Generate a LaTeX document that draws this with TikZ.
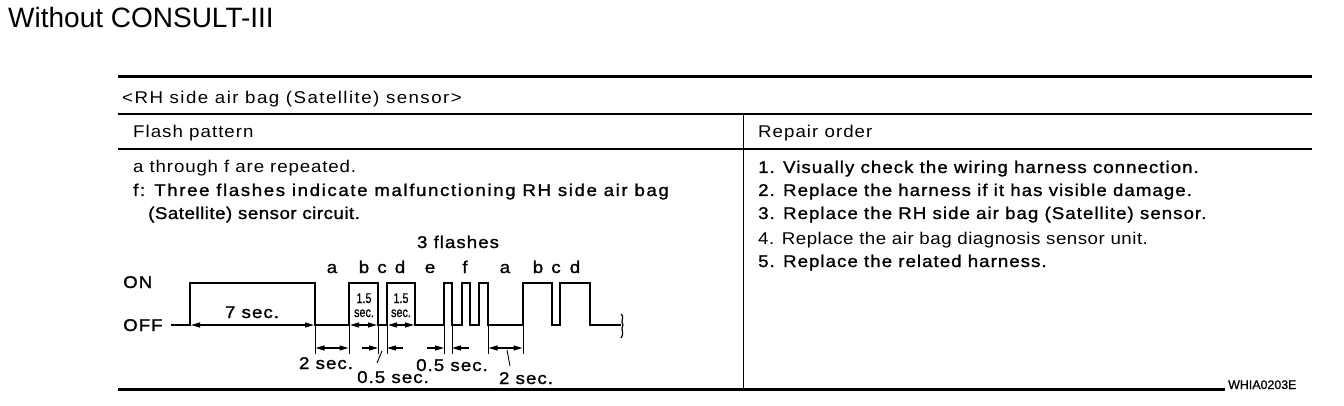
\documentclass[tikz,border=0pt]{standalone}
\usepackage{fontspec}
\setmainfont{Liberation Sans}[LetterSpace=6,FakeStretch=1.1]
\newfontfamily\plainsans{Liberation Sans}
\newfontfamily\codefont{Liberation Sans}[FakeBold=0.8]
\newfontfamily\heavysans{Liberation Sans}[LetterSpace=6,FakeStretch=1.1,FakeBold=1.2]
\usetikzlibrary{arrows.meta}
\newcommand{\lsp}[1]{\addfontfeatures{LetterSpace=#1}}
\begin{document}
\begin{tikzpicture}[x=1pt,y=-1pt,
  txt/.style={anchor=base west,inner sep=0pt,font=\fontsize{17}{20}\selectfont},
  htxt/.style={anchor=base west,inner sep=0pt,font=\heavysans\fontsize{17}{20}\selectfont},
  ctxt/.style={anchor=base,inner sep=0pt,font=\heavysans\fontsize{17}{20}\selectfont},
  small/.style={anchor=base,inner sep=0pt,font=\heavysans\lsp{0}\fontsize{14}{14}\selectfont},
  rule/.style={line width=#1},
  wave/.style={line width=2.2pt,line join=miter,line cap=rect},
  tick/.style={line width=0.9pt},
  both/.style={line width=1.2pt,{Triangle[length=9pt,width=5pt]}-{Triangle[length=9pt,width=5pt]}},
  one/.style={line width=1.2pt,-{Triangle[length=9pt,width=5pt]}},
  leader/.style={line width=0.9pt}]
\useasboundingbox (0,0) rectangle (1344,406);
% title
\node[anchor=base west,inner sep=0pt,font=\plainsans\fontsize{28}{30}\selectfont] (title) at (8,28) {Without CONSULT-III};
% table rules
\coordinate (tl1) at (118,77);  \coordinate (tr1) at (1312,77);
\coordinate (tl2) at (118,114); \coordinate (tr2) at (1312,114);
\coordinate (tl3) at (118,149); \coordinate (tr3) at (1312,149);
\coordinate (tl4) at (118,389); \coordinate (tr4) at (1225,389);
\coordinate (vt) at (743,114);  \coordinate (vb) at (743,389);
\draw[rule=3pt] (tl1) -- (tr1);
\draw[rule=2pt] (tl2) -- (tr2);
\draw[rule=2pt] (tl3) -- (tr3);
\draw[rule=3pt] (tl4) -- (tr4);
\draw[rule=1pt] (vt) -- (vb);
% headers
\node[txt,font=\fontsize{17}{20}\selectfont\lsp{8.5}] (hdr) at (122,104) {<RH side air bag (Satellite) sensor>};
\node[txt] (fp) at (133,138) {Flash pattern};
\node[txt] (ro) at (758,138) {Repair order};
% left text
\node[txt,font=\fontsize{17}{20}\selectfont\lsp{5}] (l1) at (133,173) {a through f are repeated.};
\node[htxt,font=\heavysans\fontsize{17}{20}\selectfont\lsp{9.4}] (l2) at (133,196) {f: Three flashes indicate malfunctioning RH side air bag};
\node[htxt,font=\heavysans\fontsize{17}{20}\selectfont\lsp{3}] (l3) at (148,219) {(Satellite) sensor circuit.};
% right text
\node[htxt] (r1) at (758,173) {1. Visually check the wiring harness connection.};
\node[htxt] (r2) at (758,196) {2. Replace the harness if it has visible damage.};
\node[htxt] (r3) at (758,219) {3. Replace the RH side air bag (Satellite) sensor.};
\node[txt,font=\fontsize{17}{20}\selectfont\lsp{3}] (r4) at (758,244) {4. Replace the air bag diagnosis sensor unit.};
\node[htxt] (r5) at (758,267) {5. Replace the related harness.};
\node[anchor=base west,inner sep=0pt,font=\codefont\fontsize{12.4}{14}\selectfont] (code) at (1228,389) {WHIA0203E};
% waveform labels
\node[htxt] (on) at (123,288) {ON};
\node[htxt] (off) at (123,331) {OFF};
\node[ctxt] (fl3) at (458,248) {3 flashes};
\node[ctxt] (la1) at (332,273) {a};
\node[ctxt] (lb1) at (364,273) {b};
\node[ctxt] (lc1) at (382,273) {c};
\node[ctxt] (ld1) at (400,273) {d};
\node[ctxt] (le) at (430,273) {e};
\node[ctxt] (lf) at (465,273) {f};
\node[ctxt] (la2) at (505,273) {a};
\node[ctxt] (lb2) at (538,273) {b};
\node[ctxt] (lc2) at (556,273) {c};
\node[ctxt] (ld2) at (575,273) {d};
\node[ctxt] (s7) at (252,318) {7 sec.};
\node[small] (b15) at (364,303) {\scalebox{0.7}[1]{1.5}};
\node[small] (bsec) at (364,317) {\scalebox{0.7}[1]{sec.}};
\node[small] (d15) at (401,303) {\scalebox{0.7}[1]{1.5}};
\node[small] (dsec) at (401,317) {\scalebox{0.7}[1]{sec.}};
\node[ctxt] (s2a) at (326,369) {2 sec.};
\node[ctxt] (s05c) at (393,383) {0.5 sec.};
\node[ctxt] (s05e) at (452,371) {0.5 sec.};
\node[ctxt] (s2b) at (526,384) {2 sec.};
% waveform
\draw[wave] (172,325) -- (190,325) -- (190,283) -- (315,283) -- (315,325) -- (349,325)
  -- (349,283) -- (378,283) -- (378,325) -- (387,325) -- (387,283) -- (415,283) -- (415,325)
  -- (444,325) -- (444,283) -- (452,283) -- (452,325) -- (462,325) -- (462,283) -- (470,283)
  -- (470,325) -- (479,325) -- (479,283) -- (488,283) -- (488,325) -- (523,325) -- (523,283)
  -- (552,283) -- (552,325) -- (560,325) -- (560,283) -- (590,283) -- (590,325) -- (620,325);
\draw[line width=1.2pt] (621,314) .. controls (625,316) and (620,322) .. (623,325)
  .. controls (620,328) and (625,334) .. (621,338);
% dimension ticks
\foreach \x in {315,349,378,387,444,452,488,523}
  \draw[tick] (\x,325) -- (\x,354);
% dimension arrows
\draw[both] (191,325) -- (314,325);
\draw[both] (350,325) -- (377,325);
\draw[both] (388,325) -- (414,325);
\draw[both] (315.5,348) -- (348.5,348);
\draw[one] (362,348) -- (378,348);
\draw[one] (403,348) -- (387,348);
\draw[one] (427,348) -- (444,348);
\draw[one] (469,348) -- (452,348);
\draw[both] (488.5,348) -- (522.5,348);
\draw[leader] (382,351) -- (377,363);
\draw[leader] (507,350) -- (510,366);
\end{tikzpicture}
\end{document}
